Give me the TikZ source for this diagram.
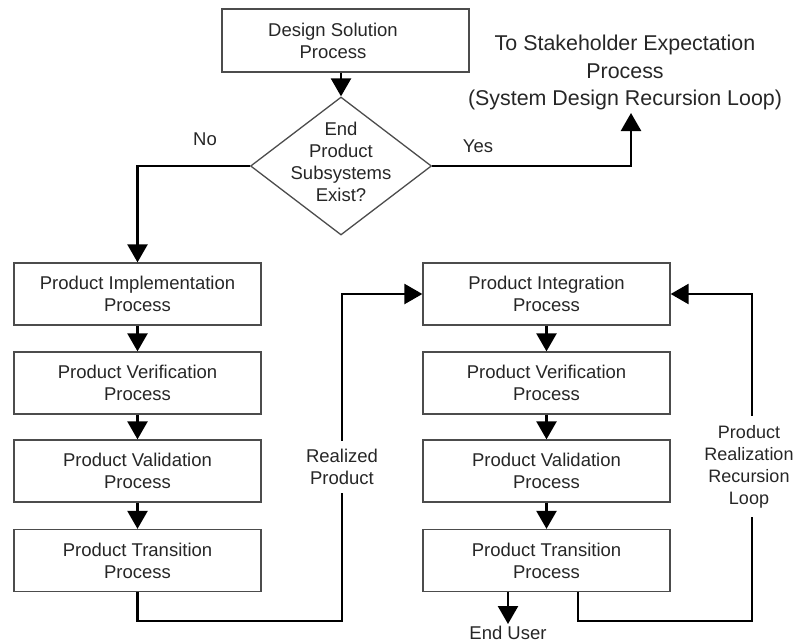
\documentclass[tikz,border=0pt]{standalone}
\usepackage{fontspec}
\setmainfont{Liberation Sans}
\usetikzlibrary{shapes.geometric,arrows.meta,calc}
\newcommand\boxfont{\fontsize{18.5}{22}\selectfont}
\newcommand\bigfont{\fontsize{21.4}{27.5}\selectfont}
\newcommand\loopfont{\fontsize{18}{22}\selectfont}
\tikzset{
 procbox/.style={draw=black!70, line width=1.3pt, minimum width=247pt, minimum height=62pt, align=center, font=\boxfont, inner sep=0pt, text=black!85},
 conn/.style={line width=2.5pt, line join=miter, black},
 arr/.style={conn, -{Triangle[length=18pt,width=20pt]}},
 lbl/.style={align=center, font=\boxfont, text=black!85},
}
\begin{document}
\begin{tikzpicture}[x=1pt,y=-1pt]
\useasboundingbox (0,0) rectangle (795,643);
% top
\node[procbox, minimum height=63pt] (design) at (345.5,40.5) {};
\node[lbl, inner sep=0pt] (designtext) at (333,41) {Design Solution\\Process};
\node[diamond, draw=black!70, line width=1.3pt, minimum width=181pt, minimum height=138pt, inner sep=0pt] (dec) at (341,166) {};
\node[lbl, inner sep=0pt] (dectext) at (341,162) {End\\Product\\Subsystems\\Exist?};
\node[lbl, font=\bigfont, inner sep=0pt] (stake) at (625,72.5) {To Stakeholder Expectation\\Process\\(System Design Recursion Loop)};
\coordinate (yesend) at (631,113);
\node[lbl, inner sep=0pt] (no) at (205,139) {No};
\node[lbl, inner sep=0pt] (yes) at (478,146) {Yes};
% left column
\node[procbox] (implL) at (137.5,294) {Product Implementation\\Process};
\node[procbox] (verL) at (137.5,383) {Product Verification\\Process};
\node[procbox] (valL) at (137.5,471) {Product Validation\\Process};
\node[procbox] (trL) at (137.5,560.5) {Product Transition\\Process};
% right column
\node[procbox] (intR) at (546.5,294) {Product Integration\\Process};
\node[procbox] (verR) at (546.5,383) {Product Verification\\Process};
\node[procbox] (valR) at (546.5,471) {Product Validation\\Process};
\node[procbox] (trR) at (546.5,560.5) {Product Transition\\Process};
% labels
\node[lbl, inner sep=8pt] (realized) at (342,466.5) {Realized\\Product};
\node[lbl, font=\loopfont, inner sep=9pt] (loop) at (749,466.5) {Product\\Realization\\Recursion\\Loop};
\node[lbl, inner sep=2pt] (enduser) at (508,633) {End User};
\coordinate (lowL) at (0,621);
\coordinate (loopx) at (752,0);
% connectors
\draw[arr] (dec.north |- design.south) -- (dec.north);
\draw[arr] (dec.east) -| (yesend);
\draw[arr] (dec.west) -| (implL.north);
\draw[arr] (implL) -- (verL);
\draw[arr] (verL) -- (valL);
\draw[arr] (valL) -- (trL);
\draw[arr] (intR) -- (verR);
\draw[arr] (verR) -- (valR);
\draw[arr] (valR) -- (trR);
\draw[conn] (trL.south) -- (trL.south |- lowL) -| (realized.south);
\draw[arr] (realized.north) |- (intR.west);
\draw[arr] (enduser.north |- trR.south) -- (enduser.north);
\draw[conn] ([xshift=31.5pt]trR.south) -- ([xshift=31.5pt]trR.south |- lowL) -| (loopx |- loop.south);
\draw[arr] (loopx |- loop.north) |- (intR.east);
\end{tikzpicture}
\end{document}
